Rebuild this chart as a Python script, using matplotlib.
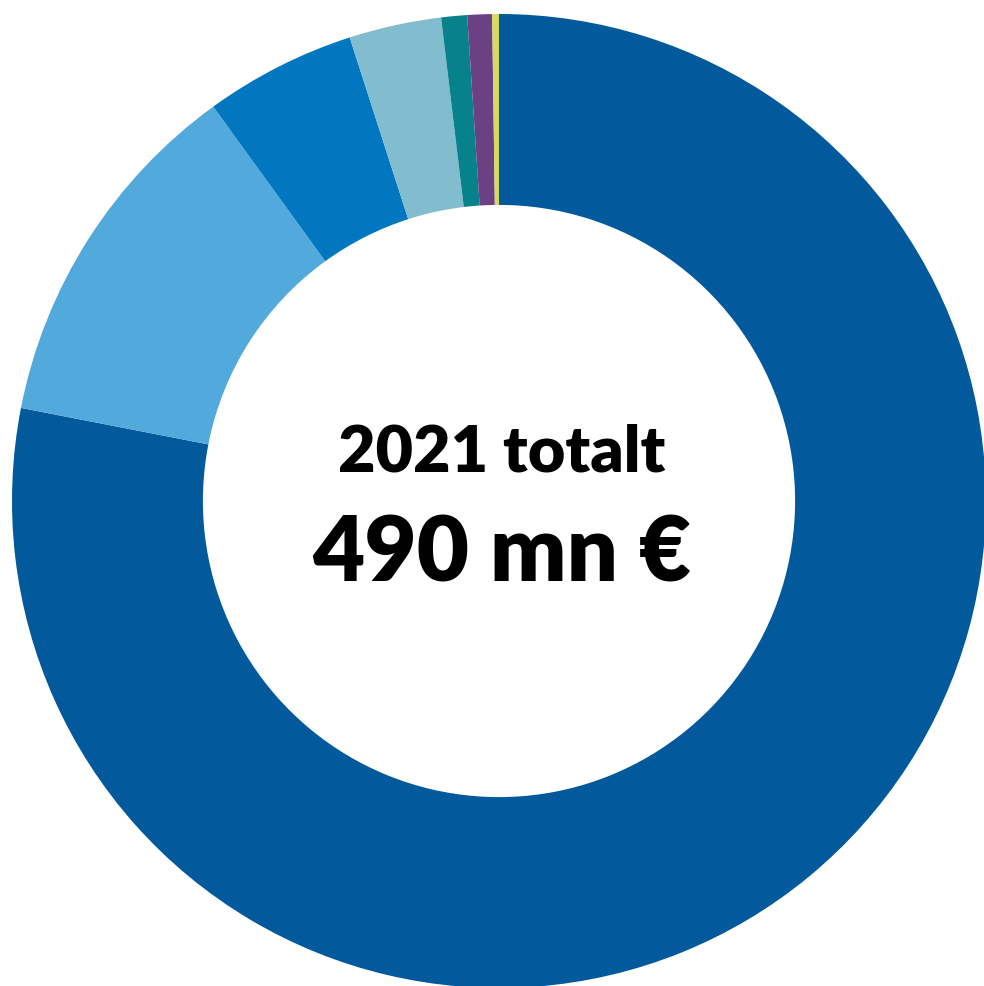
import matplotlib
matplotlib.use("Agg")
import matplotlib.pyplot as plt

labels = ["A", "B", "C", "D", "E", "F", "G"]
values = [382.5, 58.6, 24.6, 15.0, 4.2, 4.0, 1.1]
colors = ["#02599c", "#52aadc", "#0077be", "#82bccf", "#07818a", "#6c4184", "#d8d960"]
title_line1 = "2021 totalt"
title_line2 = "490 mn €"

W, H = 984, 986
fig = plt.figure(figsize=(W / 100, H / 100), dpi=100)
ax = fig.add_axes([0, 0, 1, 1])
cx, cy, R = 499, 501, 487
ax.pie(values, colors=colors, startangle=90, counterclock=False, radius=1,
       wedgeprops=dict(width=0.392, linewidth=0))
ax.set_xlim(-cx / R, (W - cx) / R)
ax.set_ylim(-(H - cy) / R, cy / R)
ax.set_aspect("auto")
ax.axis("off")

ax.text(0.006, (cy - 472) / R, title_line1, ha="center", va="baseline",
        fontsize=46.5, fontweight="heavy", family="Lato", color="black")
ax.text(0.005, (cy - 582) / R, title_line2, ha="center", va="baseline",
        fontsize=65, fontweight="heavy", family="Lato", color="black")

fig.savefig("out.png", dpi=100)
